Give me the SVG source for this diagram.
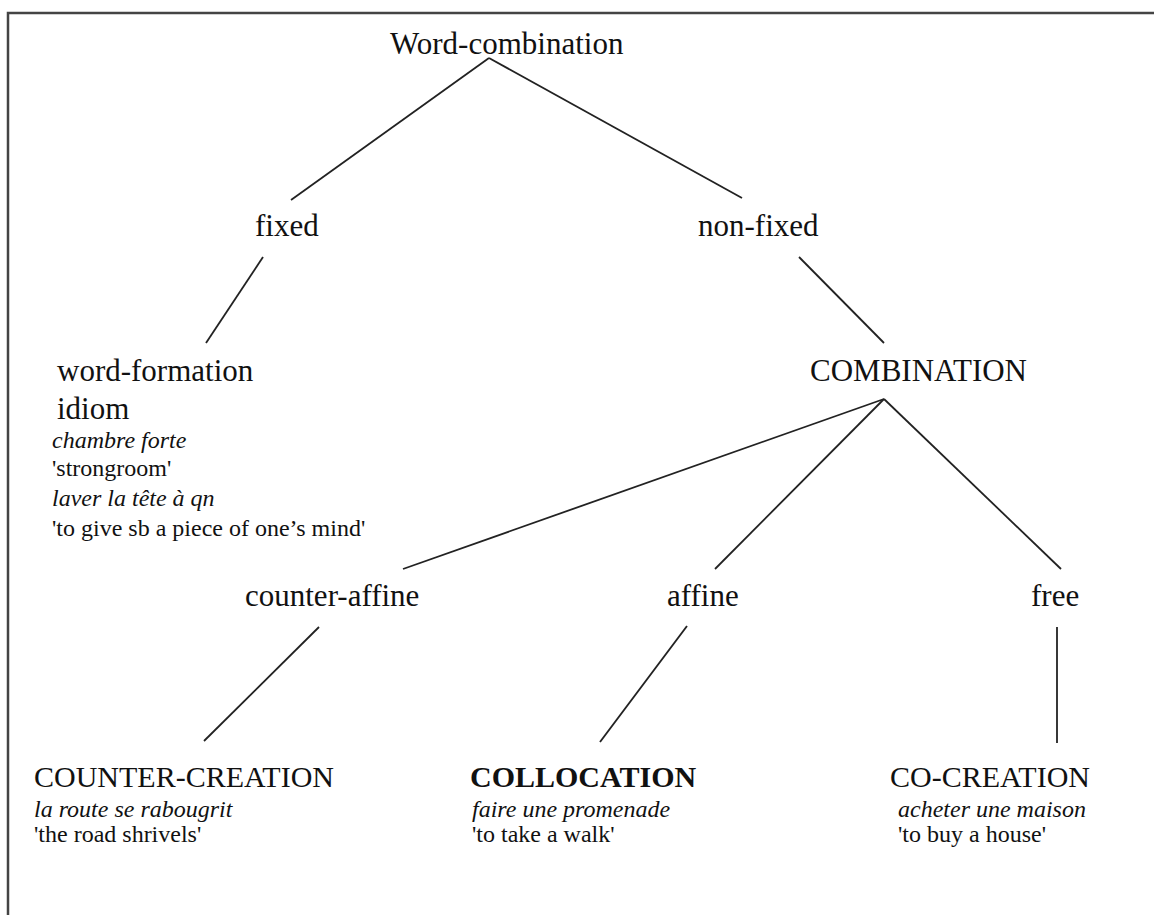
<svg xmlns="http://www.w3.org/2000/svg" width="1154" height="915" viewBox="0 0 1154 915">
<style>
text{font-family:"Liberation Serif","Tinos","Times New Roman","DejaVu Serif",serif;fill:#111}
.lbl{font-size:31px}
.big{font-size:30px}
.ex{font-size:24px}
.it{font-style:italic}
.b{font-weight:bold}
.edge{stroke:#222;stroke-width:1.8;fill:none}
</style>
<rect x="0" y="0" width="1154" height="915" fill="#fff"/>
<rect x="8" y="13" width="1300" height="1000" fill="none" stroke="#444" stroke-width="2.5"/>
<g id="connectors">
<line class="edge" x1="489" y1="58" x2="291" y2="200"/>
<line class="edge" x1="489" y1="58" x2="742" y2="198"/>
<line class="edge" x1="263" y1="257" x2="206" y2="343"/>
<line class="edge" x1="799" y1="257" x2="884" y2="343"/>
<line class="edge" x1="884" y1="399" x2="403" y2="569"/>
<line class="edge" x1="884" y1="399" x2="715" y2="569"/>
<line class="edge" x1="884" y1="399" x2="1061" y2="569"/>
<line class="edge" x1="319" y1="627" x2="204" y2="741"/>
<line class="edge" x1="687" y1="626" x2="600" y2="742"/>
<line class="edge" x1="1057" y1="627" x2="1057" y2="743"/>
</g>
<g id="word-combination"><text class="lbl" x="390" y="54" font-family="Liberation Serif, serif">Word-combination</text></g>
<g id="fixed"><text class="lbl" x="255" y="236">fixed</text></g>
<g id="non-fixed"><text class="lbl" x="698" y="236">non-fixed</text></g>
<g id="word-formation-idiom">
<text class="lbl" x="57" y="381">word-formation</text>
<text class="lbl" x="57" y="419">idiom</text>
<text class="ex it" x="52" y="448">chambre forte</text>
<text class="ex" x="52" y="476">'strongroom'</text>
<text class="ex it" x="52" y="506">laver la tête à qn</text>
<text class="ex" x="52" y="536">'to give sb a piece of one’s mind'</text>
</g>
<g id="combination"><text class="lbl" x="810" y="381">COMBINATION</text></g>
<g id="counter-affine"><text class="lbl" x="245" y="606">counter-affine</text></g>
<g id="affine"><text class="lbl" x="667" y="606">affine</text></g>
<g id="free"><text class="lbl" x="1031" y="606">free</text></g>
<g id="counter-creation">
<text class="big" x="34" y="787">COUNTER-CREATION</text>
<text class="ex it" x="34" y="817">la route se rabougrit</text>
<text class="ex" x="34" y="842">'the road shrivels'</text>
</g>
<g id="collocation">
<text class="big b" x="470" y="787">COLLOCATION</text>
<text class="ex it" x="472" y="817">faire une promenade</text>
<text class="ex" x="472" y="842">'to take a walk'</text>
</g>
<g id="co-creation">
<text class="big" x="890" y="787">CO-CREATION</text>
<text class="ex it" x="898" y="817">acheter une maison</text>
<text class="ex" x="898" y="842">'to buy a house'</text>
</g>
</svg>
